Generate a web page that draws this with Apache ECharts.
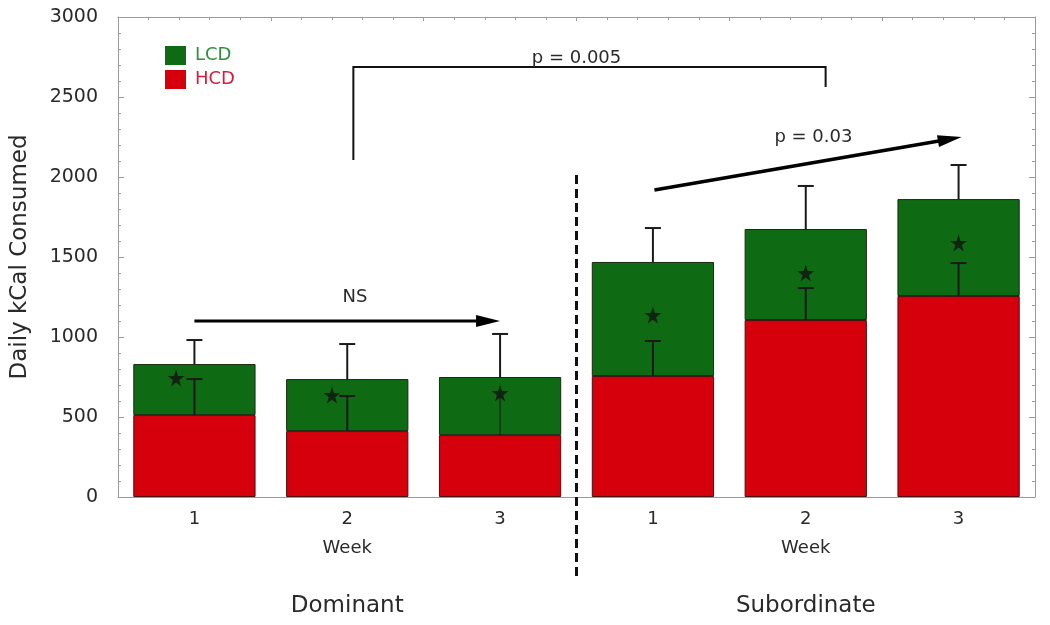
<!DOCTYPE html>
<html>
<head>
<meta charset="utf-8">
<script src="https://cdn.jsdelivr.net/npm/echarts@6/dist/echarts.min.js"></script>
<style>html,body{margin:0;padding:0;background:#fff}#c{width:1050px;height:625px}</style>
</head>
<body>
<div id="c"></div>
<script>
const weeks = ['1', '2', '3', '1', '2', '3'];
const weekTitle = ['', 'Week', '', '', 'Week', ''];
const groups = ['Dominant', 'Subordinate'];
const hcd = [512, 412, 387, 756, 1106, 1256];
const lcd = [319, 325, 363, 713, 569, 606];
const totalErr = [150, 219, 269, 212, 269, 213];
const hcdErr = [225, 219, 253, 219, 200, 206];
const hcdErrCap = [true, true, false, true, true, true];
const starX = [-0.12, 0.9, 2, 3, 4, 5];
const starY = [744, 637, 650, 1137, 1400, 1588];
const nsArrow = [[0, 1100], [2, 1100]];
const trendArrow = [[3.01, 1919], [5.02, 2250]];
const bracket = [[1.04, 2106], [1.04, 2687], [4.13, 2687], [4.13, 2562]];
const divider = [[2.5, 2012], [2.5, -520]];
const notes = [
  { text: 'NS', at: [1.05, 1250] },
  { text: 'p = 0.005', at: [2.5, 2744] },
  { text: 'p = 0.03', at: [4.05, 2250] }
];

const FONT = 'DejaVu Sans';
const TXT = '#2a2a2a';
const AX = '#9a9a9a';
const RED = '#d6000d';
const GREEN = '#0f6b13';

const chart = echarts.init(document.getElementById('c'), null, { renderer: 'canvas' });

function makeErrRender(caps) {
  return function (params, api) {
    const x = api.value(0);
    const b = api.coord([x, api.value(1)]);
    const t = api.coord([x, api.value(2)]);
    const hasCap = caps ? caps[params.dataIndex] : true;
    const st = { stroke: '#1a1a1a', lineWidth: hasCap ? 2 : 1 };
    const kids = [{ type: 'line', shape: { x1: b[0], y1: b[1], x2: t[0], y2: t[1] }, style: st }];
    if (hasCap) kids.push({ type: 'line', shape: { x1: t[0] - 8, y1: t[1], x2: t[0] + 8, y2: t[1] }, style: st });
    return { type: 'group', children: kids };
  };
}

function arrowShapes(a, b, lw, hl, hw) {
  const dx = b[0] - a[0], dy = b[1] - a[1];
  const len = Math.sqrt(dx * dx + dy * dy);
  const ux = dx / len, uy = dy / len;
  const bx = b[0] - ux * hl, by = b[1] - uy * hl;
  const nx = -uy, ny = ux;
  return [
    { type: 'line', shape: { x1: a[0], y1: a[1], x2: bx + ux, y2: by + uy }, style: { stroke: '#000', lineWidth: lw } },
    { type: 'polygon', shape: { points: [[b[0], b[1]], [bx + nx * hw, by + ny * hw], [bx - nx * hw, by - ny * hw]] }, style: { fill: '#000' } }
  ];
}

function annRender(params, api) {
  const c = p => api.coord(p);
  const kids = [];
  kids.push(...arrowShapes(c(nsArrow[0]), c(nsArrow[1]), 3, 24, 6));
  kids.push(...arrowShapes(c(trendArrow[0]), c(trendArrow[1]), 3.5, 24, 6));
  kids.push({ type: 'polyline', shape: { points: bracket.map(c) }, style: { stroke: '#111', lineWidth: 2, fill: null } });
  const d0 = c(divider[0]), d1 = c(divider[1]);
  kids.push({ type: 'line', shape: { x1: d0[0], y1: d0[1], x2: d1[0], y2: d1[1] }, style: { stroke: '#111', lineWidth: 3, lineDash: [9, 5] } });
  notes.forEach(n => {
    const p = c(n.at);
    kids.push({ type: 'text', style: { text: n.text, x: p[0], y: p[1], textAlign: 'center', textVerticalAlign: 'middle', fill: TXT, fontSize: 18, fontFamily: FONT } });
  });
  return { type: 'group', children: kids };
}

const option = {
  backgroundColor: '#fff',
  animation: false,
  grid: { left: 118, right: 15, top: 17, bottom: 128, containLabel: false },
  legend: {
    left: 160, top: 41, orient: 'vertical', icon: 'rect',
    itemWidth: 21, itemHeight: 19, itemGap: 5,
    itemStyle: { borderWidth: 0 },
    textStyle: { fontSize: 18, fontFamily: FONT, padding: [0, 0, 0, 4] },
    data: [
      { name: 'LCD', textStyle: { color: '#2f8f3e' } },
      { name: 'HCD', textStyle: { color: '#d51c3a' } }
    ]
  },
  xAxis: [
    {
      type: 'category', data: weeks, position: 'bottom',
      axisLine: { onZero: false, lineStyle: { color: AX } },
      axisTick: { inside: true, length: 4, lineStyle: { color: AX } },
      axisLabel: { fontSize: 18, fontFamily: FONT, color: TXT, margin: 13 }
    },
    { type: 'value', min: -0.5, max: 5.5, show: false },
    {
      type: 'category', data: weekTitle, position: 'bottom', offset: 29,
      axisLine: { show: false, onZero: false }, axisTick: { show: false },
      axisLabel: { fontSize: 18, fontFamily: FONT, color: TXT, margin: 13, interval: 0 }
    },
    {
      type: 'category', data: groups, position: 'bottom', offset: 85,
      axisLine: { show: false, onZero: false }, axisTick: { show: false },
      axisLabel: { fontSize: 23, fontFamily: FONT, color: TXT, margin: 13, interval: 0 }
    },
    {
      type: 'value', min: 0, max: 6, interval: 1, position: 'top',
      axisLine: { show: true, onZero: false, lineStyle: { color: AX } },
      axisTick: { show: true, inside: true, length: 4, lineStyle: { color: AX } },
      minorTick: { show: true, splitNumber: 5, length: 3, lineStyle: { color: AX } },
      axisLabel: { show: false }, splitLine: { show: false }
    }
  ],
  yAxis: [
    {
      type: 'value', min: 0, max: 3000, interval: 500,
      name: 'Daily kCal Consumed', nameLocation: 'middle', nameGap: 86, nameRotate: 90,
      nameTextStyle: { fontSize: 23, fontFamily: FONT, color: TXT },
      axisLine: { show: true, onZero: false, lineStyle: { color: AX } },
      axisTick: { show: true, inside: true, length: 6, lineStyle: { color: AX } },
      minorTick: { show: true, splitNumber: 5, length: 3, lineStyle: { color: AX } },
      axisLabel: { fontSize: 19, fontFamily: FONT, color: TXT, margin: 20, formatter: v => String(v) },
      splitLine: { show: false }
    },
    {
      type: 'value', min: 0, max: 3000, interval: 500, position: 'right',
      axisLine: { show: true, onZero: false, lineStyle: { color: AX } },
      axisTick: { show: true, inside: true, length: 6, lineStyle: { color: AX } },
      minorTick: { show: true, splitNumber: 5, length: 3, lineStyle: { color: AX } },
      axisLabel: { show: false }, splitLine: { show: false }
    }
  ],
  series: [
    {
      name: 'HCD', type: 'bar', stack: 'kcal', data: hcd, barCategoryGap: '20%',
      itemStyle: { color: RED, borderColor: '#4a1010', borderWidth: 1 }
    },
    {
      name: 'LCD', type: 'bar', stack: 'kcal', data: lcd, barCategoryGap: '20%',
      itemStyle: { color: GREEN, borderColor: '#1a2a10', borderWidth: 1 }
    },
    {
      name: 'hcdErr', type: 'custom', renderItem: makeErrRender(hcdErrCap), z: 5,
      encode: { x: 0, y: [1, 2] },
      data: weeks.map((_, i) => [i, hcd[i], hcd[i] + hcdErr[i]])
    },
    {
      name: 'totalErr', type: 'custom', renderItem: makeErrRender(null), z: 5,
      encode: { x: 0, y: [1, 2] },
      data: weeks.map((_, i) => [i, hcd[i] + lcd[i], hcd[i] + lcd[i] + totalErr[i]])
    },
    {
      name: 'stars', type: 'scatter', xAxisIndex: 1, z: 6,
      symbol: 'path://M50,0 L61,35 L98,35 L68,57 L79,91 L50,70 L21,91 L32,57 L2,35 L39,35 Z',
      symbolSize: 17, itemStyle: { color: '#111' },
      data: starX.map((x, i) => [x, starY[i]])
    },
    {
      name: 'annotations', type: 'custom', xAxisIndex: 1, clip: false, silent: true, z: 7,
      renderItem: annRender, data: [[0, 0]]
    }
  ]
};
chart.setOption(option);
</script>
</body>
</html>
